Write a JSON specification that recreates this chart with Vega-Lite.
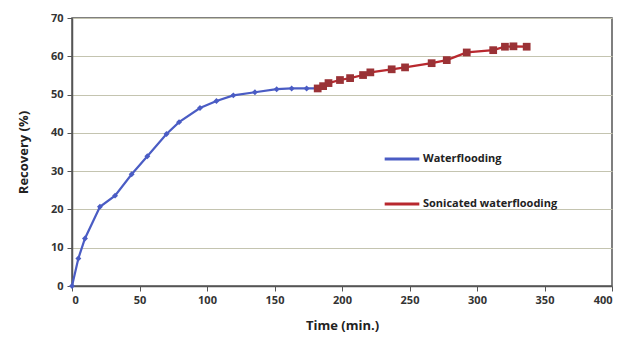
{
  "$schema": "https://vega.github.io/schema/vega-lite/v6.json",
  "width": 540,
  "height": 268,
  "autosize": {"type": "none"},
  "padding": {"left": 72, "top": 18, "right": 23, "bottom": 54},
  "background": "white",
  "config": {
    "font": "Open Sans",
    "view": {"stroke": "#555555", "strokeWidth": 1.5},
    "axis": {
      "labelFont": "Open Sans",
      "labelFontWeight": "bold",
      "labelFontSize": 11,
      "labelColor": "#333333",
      "titleFont": "Open Sans",
      "titleFontWeight": "bold",
      "titleFontSize": 13,
      "titleColor": "#222222",
      "domainColor": "#555555",
      "domainWidth": 1.5,
      "tickColor": "#555555",
      "tickSize": 5,
      "gridColor": "#c4c4b0",
      "gridWidth": 1.2
    }
  },
  "datasets": {
    "rec": [
      {"series": "Waterflooding", "time": 0, "recovery": 0},
      {"series": "Waterflooding", "time": 4.7, "recovery": 7.2},
      {"series": "Waterflooding", "time": 9.6, "recovery": 12.4},
      {"series": "Waterflooding", "time": 20.7, "recovery": 20.7},
      {"series": "Waterflooding", "time": 31.9, "recovery": 23.6},
      {"series": "Waterflooding", "time": 44.2, "recovery": 29.2},
      {"series": "Waterflooding", "time": 55.8, "recovery": 33.9},
      {"series": "Waterflooding", "time": 70, "recovery": 39.7},
      {"series": "Waterflooding", "time": 79.3, "recovery": 42.8},
      {"series": "Waterflooding", "time": 94.8, "recovery": 46.5},
      {"series": "Waterflooding", "time": 107, "recovery": 48.3},
      {"series": "Waterflooding", "time": 119.5, "recovery": 49.8},
      {"series": "Waterflooding", "time": 135.5, "recovery": 50.6},
      {"series": "Waterflooding", "time": 151.6, "recovery": 51.4},
      {"series": "Waterflooding", "time": 162.7, "recovery": 51.6},
      {"series": "Waterflooding", "time": 173.8, "recovery": 51.6},
      {"series": "Waterflooding", "time": 182, "recovery": 51.6},
      {"series": "Sonicated waterflooding", "time": 182, "recovery": 51.6},
      {"series": "Sonicated waterflooding", "time": 186, "recovery": 52.2},
      {"series": "Sonicated waterflooding", "time": 190, "recovery": 53.0},
      {"series": "Sonicated waterflooding", "time": 198.5, "recovery": 53.8},
      {"series": "Sonicated waterflooding", "time": 206, "recovery": 54.3},
      {"series": "Sonicated waterflooding", "time": 215.6, "recovery": 55.1},
      {"series": "Sonicated waterflooding", "time": 221, "recovery": 55.8},
      {"series": "Sonicated waterflooding", "time": 236.8, "recovery": 56.6},
      {"series": "Sonicated waterflooding", "time": 246.7, "recovery": 57.1},
      {"series": "Sonicated waterflooding", "time": 266.4, "recovery": 58.2},
      {"series": "Sonicated waterflooding", "time": 277.6, "recovery": 59.0},
      {"series": "Sonicated waterflooding", "time": 292.4, "recovery": 61.0},
      {"series": "Sonicated waterflooding", "time": 312, "recovery": 61.6},
      {"series": "Sonicated waterflooding", "time": 320.7, "recovery": 62.5},
      {"series": "Sonicated waterflooding", "time": 327, "recovery": 62.6},
      {"series": "Sonicated waterflooding", "time": 336.8, "recovery": 62.5}
    ]
  },
  "data": {"name": "rec"},
  "encoding": {
    "x": {
      "field": "time", "type": "quantitative",
      "scale": {"domain": [0, 400], "nice": false},
      "axis": {"values": [0, 50, 100, 150, 200, 250, 300, 350, 400], "grid": false, "title": "Time (min.)", "titlePadding": 14, "labelPadding": 3}
    },
    "y": {
      "field": "recovery", "type": "quantitative",
      "scale": {"domain": [0, 70], "nice": false},
      "axis": {"values": [0, 10, 20, 30, 40, 50, 60, 70], "title": "Recovery (%)", "titlePadding": 20, "labelPadding": 4}
    }
  },
  "layer": [
    {
      "mark": {"type": "line", "strokeWidth": 2.2},
      "encoding": {
        "color": {
          "field": "series", "type": "nominal",
          "sort": ["Waterflooding", "Sonicated waterflooding"],
          "scale": {"domain": ["Waterflooding", "Sonicated waterflooding"], "range": ["#4a5cc4", "#b8282e"]},
          "legend": {
            "title": null,
            "orient": "none",
            "legendX": 311,
            "legendY": 122,
            "symbolType": "stroke",
            "symbolSize": 1200,
            "symbolStrokeWidth": 3,
            "rowPadding": 20,
            "labelFont": "Open Sans",
            "labelFontWeight": "bold",
            "labelFontSize": 11,
            "labelColor": "#222222",
            "labelOffset": 2
          }
        }
      }
    },
    {
      "transform": [{"filter": "datum.series === 'Waterflooding'"}],
      "mark": {"type": "point", "filled": true, "opacity": 1, "shape": "diamond", "size": 35, "color": "#4a5cc4", "strokeWidth": 0}
    },
    {
      "transform": [{"filter": "datum.series === 'Sonicated waterflooding'"}],
      "mark": {"type": "point", "filled": true, "opacity": 1, "shape": "square", "size": 60, "color": "#9a3236", "strokeWidth": 0}
    }
  ]
}
